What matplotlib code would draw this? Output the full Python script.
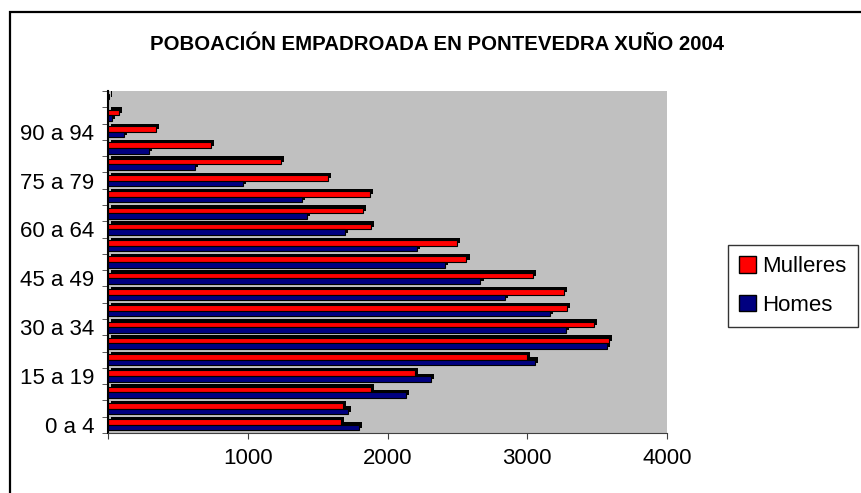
import numpy as np
import matplotlib
matplotlib.use('Agg')
import matplotlib.pyplot as plt
from matplotlib.patches import Rectangle, Patch

plt.rcParams['font.family'] = ['Liberation Sans', 'DejaVu Sans']

# grupos de idade, de abaixo a arriba
idades = ['0 a 4', '5 a 9', '10 a 14', '15 a 19', '20 a 24', '25 a 29', '30 a 34',
          '35 a 39', '40 a 44', '45 a 49', '50 a 54', '55 a 59', '60 a 64', '65 a 69',
          '70 a 74', '75 a 79', '80 a 84', '85 a 89', '90 a 94', '95 a 99', '100 e máis']
mulleres = [1665, 1680, 1880, 2195, 3000, 3585, 3475, 3285, 3265, 3040, 2565,
            2495, 1880, 1825, 1875, 1575, 1240, 740, 340, 80, 10]
homes = [1795, 1720, 2135, 2310, 3055, 3570, 3280, 3165, 2840, 2665, 2410,
         2210, 1695, 1425, 1385, 965, 625, 290, 115, 30, 3]
ticks_x = [0, 1000, 2000, 3000, 4000]

fig = plt.figure(figsize=(8.61, 4.93), dpi=100)
ax = fig.add_axes([108/861, 1-433/493, (667-108)/861, (433-91)/493])
ax.set_facecolor('#C0C0C0')

y = np.arange(len(idades))
alto = 0.34
dx = 22      # profundidade 3D en unidades de datos
dy = 0.15

for serie, cor, off in [(mulleres, '#FF0000', 0.17), (homes, '#000080', -0.17)]:
    # sombra (efecto 3D)
    ax.barh(y + off + dy, serie, height=alto, left=dx, color='black', zorder=2)
    ax.barh(y + off, serie, height=alto, color=cor, edgecolor='black', linewidth=0.8, zorder=3)

ax.set_xlim(0, 4000)
ax.set_ylim(-0.5, len(idades) - 0.5)
ax.set_xticks(ticks_x)
ax.set_xticklabels(['' if t == 0 else str(t) for t in ticks_x], fontsize=16)
ax.tick_params(axis='x', length=4, pad=7, color='#404040')

ax.set_yticks(y[::3])
ax.set_yticklabels(idades[::3], fontsize=16)
ax.tick_params(axis='y', which='major', length=0, pad=10)
ax.set_yticks(np.arange(len(idades) + 1) - 0.5, minor=True)
ax.tick_params(axis='y', which='minor', length=4.5, color='#404040')

for lado in ['top', 'right']:
    ax.spines[lado].set_visible(False)
ax.spines['left'].set_linewidth(1.5)
ax.spines['left'].set_color('black')
ax.spines['bottom'].set_color('#404040')

fig.text(437/861, 1-45/493, 'POBOACIÓN EMPADROADA EN PONTEVEDRA XUÑO 2004',
         ha='center', va='center', fontsize=14.7, fontweight='bold')

# marco exterior
fig.patches.append(Rectangle((10/861, -0.1), 1.2, 1.1 - 12/493, transform=fig.transFigure,
                             fill=False, edgecolor='black', linewidth=1.6))

manexos = [Patch(facecolor='#FF0000', edgecolor='black', label='Mulleres'),
           Patch(facecolor='#000080', edgecolor='black', label='Homes')]
leg = fig.legend(handles=manexos, loc='center left', bbox_to_anchor=(728/861, 1-286/493),
                 fontsize=16, frameon=True, fancybox=False, edgecolor='black',
                 handlelength=0.75, handleheight=0.75, handletextpad=0.3,
                 labelspacing=0.8, borderpad=0.5, borderaxespad=0)
leg.get_frame().set_linewidth(1)

fig.savefig('out.png', dpi=100)
